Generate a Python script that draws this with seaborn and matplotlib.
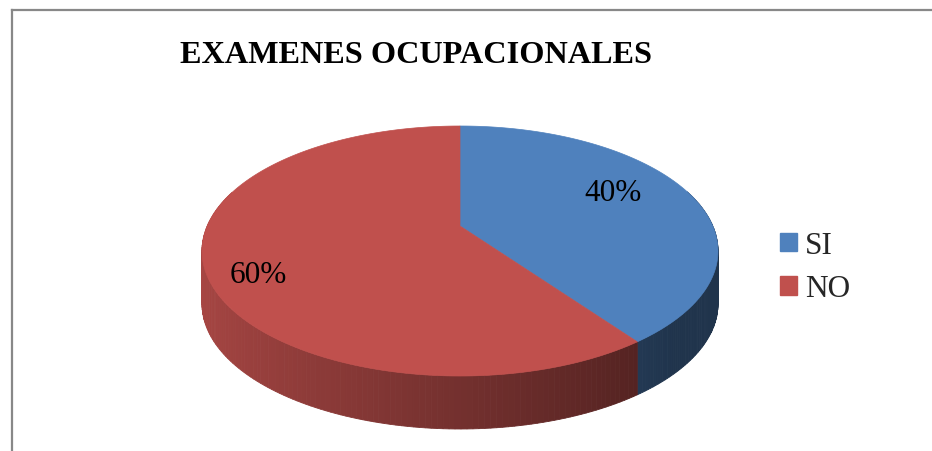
import numpy as np
import matplotlib
matplotlib.use("Agg")
import matplotlib.pyplot as plt
import seaborn as sns
from matplotlib.patches import Polygon, Patch
from matplotlib.colors import to_rgb

# data
categories = ["SI", "NO"]
values = [40, 60]
colors = ["#4f81bd", "#c0504d"]
title = "EXAMENES OCUPACIONALES"

sns.set_style("white")
plt.rcParams['font.family'] = ['Liberation Serif', 'DejaVu Serif']

W, H = 932, 452
fig = plt.figure(figsize=(W / 100, H / 100), dpi=100)
fig.patch.set_linewidth(0)
ax = fig.add_axes([0, 0, 1, 1])
ax.set_axis_off()
ax.patch.set_visible(False)

# chart frame (only top/left edges fall inside the picture)
ax.plot([11.5, W + 5], [10.5, 10.5], color="#888888", lw=1.6, solid_capstyle="projecting")
ax.plot([11.5, 11.5], [10.5, H + 5], color="#888888", lw=1.6, solid_capstyle="projecting")

# 3d pie geometry (pixels)
cx, cy, rx, ry, depth = 460, 252, 258, 125, 53
k = 0.2  # perspective


def proj(theta, r=1.0):
    u = r * np.sin(theta)
    v = -r * np.cos(theta)
    w = 1 - k * v
    X = u / w * np.sqrt(1 - k * k)
    Y = (v - k) / w
    return cx + rx * X, cy + ry * Y


total = sum(values)
fracs = [v / total for v in values]
bounds = np.concatenate([[0], np.cumsum(fracs)]) * 2 * np.pi

# side walls, drawn back to front
quads = []
for i, col in enumerate(colors):
    base = np.array(to_rgb(col))
    th = np.linspace(bounds[i], bounds[i + 1], 200)
    for t1, t2 in zip(th[:-1], th[1:]):
        tm = 0.5 * (t1 + t2)
        if -np.cos(tm) < -0.3:
            continue
        x1, y1 = proj(t1)
        x2, y2 = proj(t2)
        u = np.sin(tm)
        f = np.clip(0.88 - 0.47 * (u + 1) / 1.7, 0.40, 1)
        c = base * f
        quads.append((-np.cos(tm), [(x1, y1), (x2, y2), (x2, y2 + depth), (x1, y1 + depth)], c))
quads.sort(key=lambda q: q[0])
for _, pts, c in quads:
    ax.add_patch(Polygon(pts, closed=True, fc=c, ec=c, lw=0.6))

# top face
for i, col in enumerate(colors):
    th = np.linspace(bounds[i], bounds[i + 1], 300)
    pts = [proj(0, 0)] + [proj(t) for t in th]
    ax.add_patch(Polygon(pts, closed=True, fc=col, ec=col, lw=0.5))

# percentage labels
lab_r = [0.70, 0.78]
lab_off = [(-6, 6), (-3, -13)]
for i, v in enumerate(fracs):
    tm = 0.5 * (bounds[i] + bounds[i + 1])
    lx, ly = proj(tm, lab_r[i])
    ax.annotate(f"{v * 100:.0f}%", (lx, ly), xytext=lab_off[i], textcoords="offset points",
                ha="center", va="center", fontsize=22.5, color="black")

ax.text(416, 63, title, ha="center", va="baseline", fontsize=23.2, fontweight="bold", color="black")

handles = [Patch(fc=c, ec=c, label=l) for c, l in zip(colors, categories)]
ax.legend(handles=handles, loc="upper left", bbox_to_anchor=(780 / W, 1 - 232 / H),
          frameon=False, fontsize=22.5, handlelength=0.55, handleheight=0.55,
          handletextpad=0.25, labelspacing=0.46, borderpad=0, borderaxespad=0)

ax.set_xlim(0, W)
ax.set_ylim(H, 0)
fig.savefig("out.png", dpi=100, facecolor="white")
